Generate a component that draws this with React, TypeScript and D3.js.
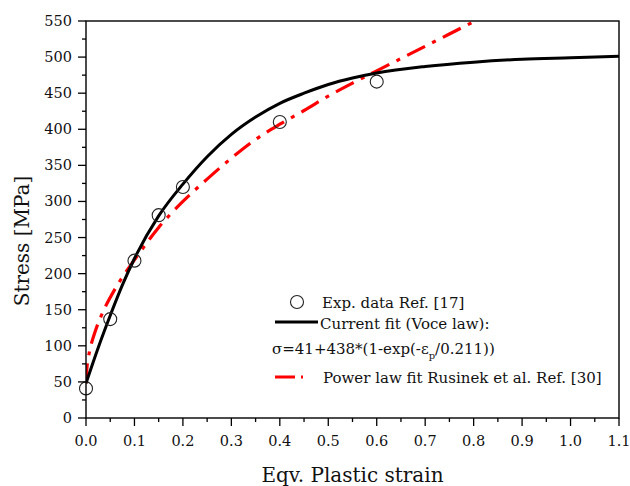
import React from "react";
import * as d3 from "d3";

const expStrain = [0, 0.05, 0.1, 0.15, 0.2, 0.4, 0.6];
const expStress = [41, 137, 218, 281, 320, 410, 466];

const voceStrain = [0, 0.025, 0.05, 0.075, 0.1, 0.15, 0.2, 0.25, 0.3, 0.35, 0.4, 0.45, 0.5, 0.55, 0.6, 0.7, 0.8, 0.9, 1.0, 1.1];
const voceStress = [48, 97, 142, 184, 221, 280, 324, 362, 393, 417, 436, 450, 462, 471, 478, 487, 493, 497, 499, 501];

const powerStrain = [0, 0.002, 0.005, 0.01, 0.02, 0.035, 0.05, 0.075, 0.1, 0.15, 0.2, 0.25, 0.3, 0.35, 0.4, 0.45, 0.5, 0.55, 0.6, 0.65, 0.7, 0.75, 0.8];
const powerStress = [48, 70, 84, 100, 122, 147, 167, 195, 219, 264, 300, 331, 360, 386, 407, 426, 446, 464, 481, 498, 515, 532, 549];

const xMajorTicks = [0, 0.1, 0.2, 0.3, 0.4, 0.5, 0.6, 0.7, 0.8, 0.9, 1.0, 1.1];
const xMinorTicks = [0.05, 0.15, 0.25, 0.35, 0.45, 0.55, 0.65, 0.75, 0.85, 0.95, 1.05];
const yMajorTicks = [0, 50, 100, 150, 200, 250, 300, 350, 400, 450, 500, 550];
const yMinorTicks = [25, 75, 125, 175, 225, 275, 325, 375, 425, 475, 525];

const FONT = "'DejaVu Serif', serif";

export default function App() {
  const left = 86, right = 619, top = 21, bottom = 418;
  const x = d3.scaleLinear().domain([0, 1.1]).range([left, right]);
  const y = d3.scaleLinear().domain([0, 550]).range([bottom, top]);

  const line = d3
    .line<[number, number]>()
    .x((d) => x(d[0]))
    .y((d) => y(d[1]))
    .curve(d3.curveMonotoneX);

  const voceData: [number, number][] = voceStrain.map((v, i) => [v, voceStress[i]]);
  const powerData: [number, number][] = powerStrain.map((v, i) => [v, powerStress[i]]);

  return (
    <svg
      width={630}
      height={486}
      style={{ position: "absolute", left: 0, top: 0, background: "#fff" }}
      fontFamily={FONT}
    >
      <defs>
        <clipPath id="plotClip">
          <rect x={left} y={top} width={right - left} height={bottom - top} />
        </clipPath>
      </defs>
      <rect x={0} y={0} width={630} height={486} fill="#fff" />

      {/* curves */}
      <g clipPath="url(#plotClip)">
        <path d={line(powerData) || ""} fill="none" stroke="#ff0000" strokeWidth={3.2} strokeDasharray="20,8,4,8" />
        <path d={line(voceData) || ""} fill="none" stroke="#000" strokeWidth={3} />
      </g>
      {expStrain.map((s, i) => (
        <circle key={i} cx={x(s)} cy={y(expStress[i])} r={6.5} fill="none" stroke="#222" strokeWidth={1.1} />
      ))}

      {/* frame */}
      <rect x={left} y={top} width={right - left} height={bottom - top} fill="none" stroke="#000" strokeWidth={1.4} />

      {/* x axis ticks */}
      {xMajorTicks.map((t) => (
        <g key={"xm" + t}>
          <line x1={x(t)} x2={x(t)} y1={bottom} y2={bottom + 8} stroke="#000" strokeWidth={1.3} />
          <text x={x(t)} y={446} textAnchor="middle" fontSize={14.5} fill="#111">
            {t.toFixed(1)}
          </text>
        </g>
      ))}
      {xMinorTicks.map((t) => (
        <line key={"xn" + t} x1={x(t)} x2={x(t)} y1={bottom} y2={bottom + 4} stroke="#000" strokeWidth={1.3} />
      ))}

      {/* y axis ticks */}
      {yMajorTicks.map((t) => (
        <g key={"ym" + t}>
          <line x1={left - 8} x2={left} y1={y(t)} y2={y(t)} stroke="#000" strokeWidth={1.3} />
          <text x={72} y={y(t)} textAnchor="end" dominantBaseline="central" fontSize={14.5} fill="#111">
            {t}
          </text>
        </g>
      ))}
      {yMinorTicks.map((t) => (
        <line key={"yn" + t} x1={left - 4} x2={left} y1={y(t)} y2={y(t)} stroke="#000" strokeWidth={1.3} />
      ))}

      {/* axis titles */}
      <text x={(left + right) / 2} y={482} textAnchor="middle" fontSize={20} fill="#111">
        Eqv. Plastic strain
      </text>
      <text transform="translate(29,241) rotate(-90)" textAnchor="middle" fontSize={20} fill="#111">
        Stress [MPa]
      </text>

      {/* legend */}
      <circle cx={297} cy={302} r={6.5} fill="none" stroke="#222" strokeWidth={1.1} />
      <text x={322} y={308} fontSize={15} fill="#111">Exp. data Ref. [17]</text>
      <line x1={275} x2={318} y1={322} y2={322} stroke="#000" strokeWidth={3} />
      <text x={320} y={329} fontSize={15} fill="#111">Current fit (Voce law):</text>
      <text x={272} y={354} fontSize={15} fill="#111">
        σ=41+438*(1-exp(-ε
        <tspan fontSize={10} dy={5}>p</tspan>
        <tspan dy={-5}>/0.211))</tspan>
      </text>
      <line x1={275} x2={303} y1={377} y2={377} stroke="#ff0000" strokeWidth={3.2} strokeDasharray="20,6,3,40" />
      <text x={323} y={383} fontSize={15} fill="#111">Power law fit Rusinek et al. Ref. [30]</text>
    </svg>
  );
}
